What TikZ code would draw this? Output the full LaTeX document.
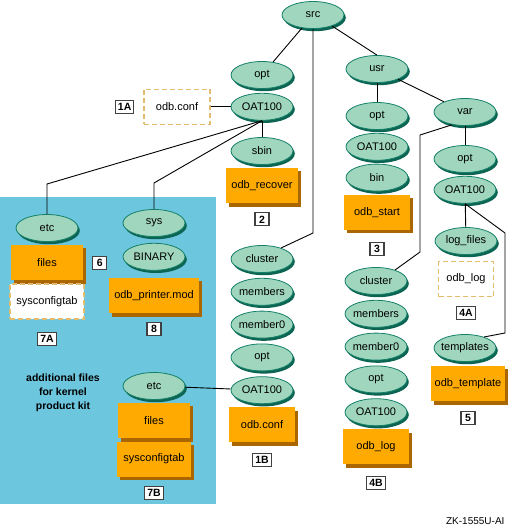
\documentclass[tikz,border=0pt]{standalone}
\usepackage{fontspec}
\setmainfont{Liberation Sans}
\usepackage{tikz}
\usetikzlibrary{shapes.geometric, positioning, backgrounds}

\definecolor{dirfill}{RGB}{160,214,190}
\definecolor{dirline}{RGB}{20,128,104}
\definecolor{dirshade}{RGB}{12,100,82}
\definecolor{filefill}{RGB}{255,170,0}
\definecolor{fileshade}{RGB}{170,102,0}
\definecolor{optline}{RGB}{228,188,110}
\definecolor{kitblue}{RGB}{108,198,222}

\begin{document}
\begin{tikzpicture}[
        x=1pt, y=-1pt,
        dirnode/.style={
            ellipse,
            draw=dirline,
            line width=0.8pt,
            fill=dirfill,
            minimum width=62pt,
            minimum height=27pt,
            inner xsep=-4pt, inner ysep=0pt,
            font=\fontsize{11}{13}\selectfont
        },
        filebox/.style={
            rectangle,
            fill=filefill,
            minimum width=66pt,
            minimum height=35pt,
            font=\fontsize{11}{13}\selectfont
        },
        optbox/.style={
            rectangle,
            draw=optline,
            dash pattern=on 5pt off 3pt,
            line width=1.2pt,
            fill=white,
            minimum width=66pt,
            minimum height=35pt,
            font=\fontsize{11}{13}\selectfont
        },
        tagbox/.style={
            rectangle,
            draw=black!75,
            line width=1.1pt,
            fill=white,
            inner xsep=2.5pt, inner ysep=1pt,
            minimum width=14pt,
            minimum height=13pt,
            font=\fontsize{10.5}{12}\selectfont\bfseries
        },
        link/.style={draw=black, line width=0.9pt}
    ]
        \useasboundingbox (0,0) rectangle (509,528);

        % root
        \node[dirnode] (src) at (313,15) {src};

        % opt/OAT100 branch
        \node[dirnode] (optA) at (262,75) {opt};
        \node[dirnode, below=4pt of optA] (oatA) {OAT100};
        \node[optbox, left=20pt of oatA] (confA) {odb.conf};
        \node[tagbox, left=9pt of confA] (tag1A) {1A};
        \node[dirnode] (sbin) at (262,151) {sbin};
        \node[filebox, below=3pt of sbin, minimum width=72pt] (recover) {odb\_recover};
        \node[tagbox, below=9pt of recover] (tag2) {2};

        % cluster branch
        \node[dirnode] (clusterA) at (262,259) {cluster};
        \node[dirnode, below=5pt of clusterA] (membersA) {members};
        \node[dirnode, below=5pt of membersA] (memberA) {member0};
        \node[dirnode, below=5pt of memberA] (optD) {opt};
        \node[dirnode, below=5pt of optD] (oatB) {OAT100};
        \node[filebox, below=3pt of oatB] (confB) {odb.conf};
        \node[tagbox, below=10pt of confB] (tag1B) {1B};

        % usr branch
        \node[dirnode] (usr) at (377,69) {usr};
        \node[dirnode] (optB) at (377,116) {opt};
        \node[dirnode, below=3pt of optB] (oatU) {OAT100};
        \node[dirnode, below=3pt of oatU] (bin) {bin};
        \node[filebox, below=3pt of bin] (start) {odb\_start};
        \node[tagbox, below=12pt of start] (tag3) {3};

        \node[dirnode] (clusterB) at (376,281) {cluster};
        \node[dirnode, below=5pt of clusterB] (membersB) {members};
        \node[dirnode, below=5pt of membersB] (memberB) {member0};
        \node[dirnode, below=5pt of memberB] (optE) {opt};
        \node[dirnode, below=5pt of optE] (oatE) {OAT100};
        \node[filebox, below=3pt of oatE] (logB) {odb\_log};
        \node[tagbox, below=11pt of logB] (tag4B) {4B};

        % var branch
        \node[dirnode] (var) at (465,112) {var};
        \node[dirnode] (optC) at (465,159) {opt};
        \node[dirnode, below=3pt of optC] (oatC) {OAT100};
        \node[dirnode] (logf) at (466,241) {log\_files};
        \node[optbox, below=6pt of logf, minimum width=55pt] (logA) {odb\_log};
        \node[tagbox, below=9pt of logA] (tag4A) {4A};
        \node[dirnode] (templates) at (465,348) {templates};
        \node[filebox, below=4pt of templates, xshift=3pt, minimum width=72pt] (tmpl) {odb\_template};
        \node[tagbox, below=10pt of tmpl] (tag5) {5};

        % kernel product kit
        \node[dirnode] (etcA) at (47,228) {etc};
        \node[filebox, below=3pt of etcA, minimum width=72pt] (filesA) {files};
        \node[optbox, below=3pt of filesA, minimum width=74pt] (sysconfA) {sysconfigtab};
        \node[tagbox, right=9pt of filesA] (tag6) {6};
        \node[tagbox, below=12pt of sysconfA] (tag7A) {7A};
        \node[dirnode] (sysA) at (154,223) {sys};
        \node[dirnode, below=6pt of sysA] (binary) {BINARY};
        \node[filebox, below=7pt of binary, minimum width=90pt] (printer) {odb\_printer.mod};
        \node[tagbox, below=9pt of printer] (tag8) {8};

        \node[dirnode] (etcB) at (154,386) {etc};
        \node[filebox, below=3pt of etcB, minimum width=72pt] (filesB) {files};
        \node[filebox, below=3pt of filesB, minimum width=74pt] (sysconfB) {sysconfigtab};
        \node[tagbox, below=9pt of sysconfB] (tag7B) {7B};

        \node[align=center, font=\fontsize{10.5}{14}\selectfont\bfseries] (kitnote) at (63,393)
            {additional files\\ for kernel\\ product kit};

        \node[anchor=east, font=\fontsize{10}{12}\selectfont] (figid) at (508,521) {ZK-1555U-AI};

        % backdrop and shadows
        \begin{scope}[on background layer]
            \fill[kitblue] (0,197) rectangle (216,504);
            \foreach \d in {src,optA,oatA,sbin,clusterA,membersA,memberA,optD,oatB,
                            usr,optB,oatU,bin,clusterB,membersB,memberB,optE,oatE,
                            var,optC,oatC,logf,templates,etcA,sysA,binary,etcB}
                \fill[dirshade] ([shift={(1.8pt,-2.6pt)}]\d.center) ellipse [x radius=31pt, y radius=13.6pt];
            \foreach \f in {recover,confB,start,logB,tmpl,filesA,printer,filesB,sysconfB}
                \fill[fileshade] ([shift={(3.2pt,-3.5pt)}]\f.south west) rectangle ([shift={(3.2pt,-3.5pt)}]\f.north east);
        \end{scope}

        % bend points
        \coordinate (srcbend) at (313,233);
        \coordinate (varbendA) at (420,135);
        \coordinate (varbendB) at (420,252);
        \coordinate (tplbendA) at (505,233);
        \coordinate (tplbendB) at (505,333);
        \coordinate (etcbend) at (47,184);
        \coordinate (sysbend) at (154,183);

        \draw[link] (src) -- (optA);
        \draw[link] (src.-30) -- (usr.north);
        \draw[link] (src.south) -- (srcbend) -- (clusterA.30);
        \draw[link] (oatA) -- (sbin);
        \draw[link] (confA) -- (oatA);
        \draw[link] (oatA.south) -- (etcbend) -- (etcA);
        \draw[link] (oatA.south) -- (sysbend) -- (sysA);
        \draw[link] (etcB) -- (oatB);
        \draw[link] (usr) -- (optB);
        \draw[link] (usr) -- (var);
        \draw[link] (var.225) -- (varbendA) -- (varbendB) -- (clusterB.30);
        \draw[link] (var) -- (optC);
        \draw[link] (oatC) -- (logf);
        \draw[link] (oatC.south) -- (tplbendA) -- (tplbendB) -- (templates.30);
\end{tikzpicture}
\end{document}
